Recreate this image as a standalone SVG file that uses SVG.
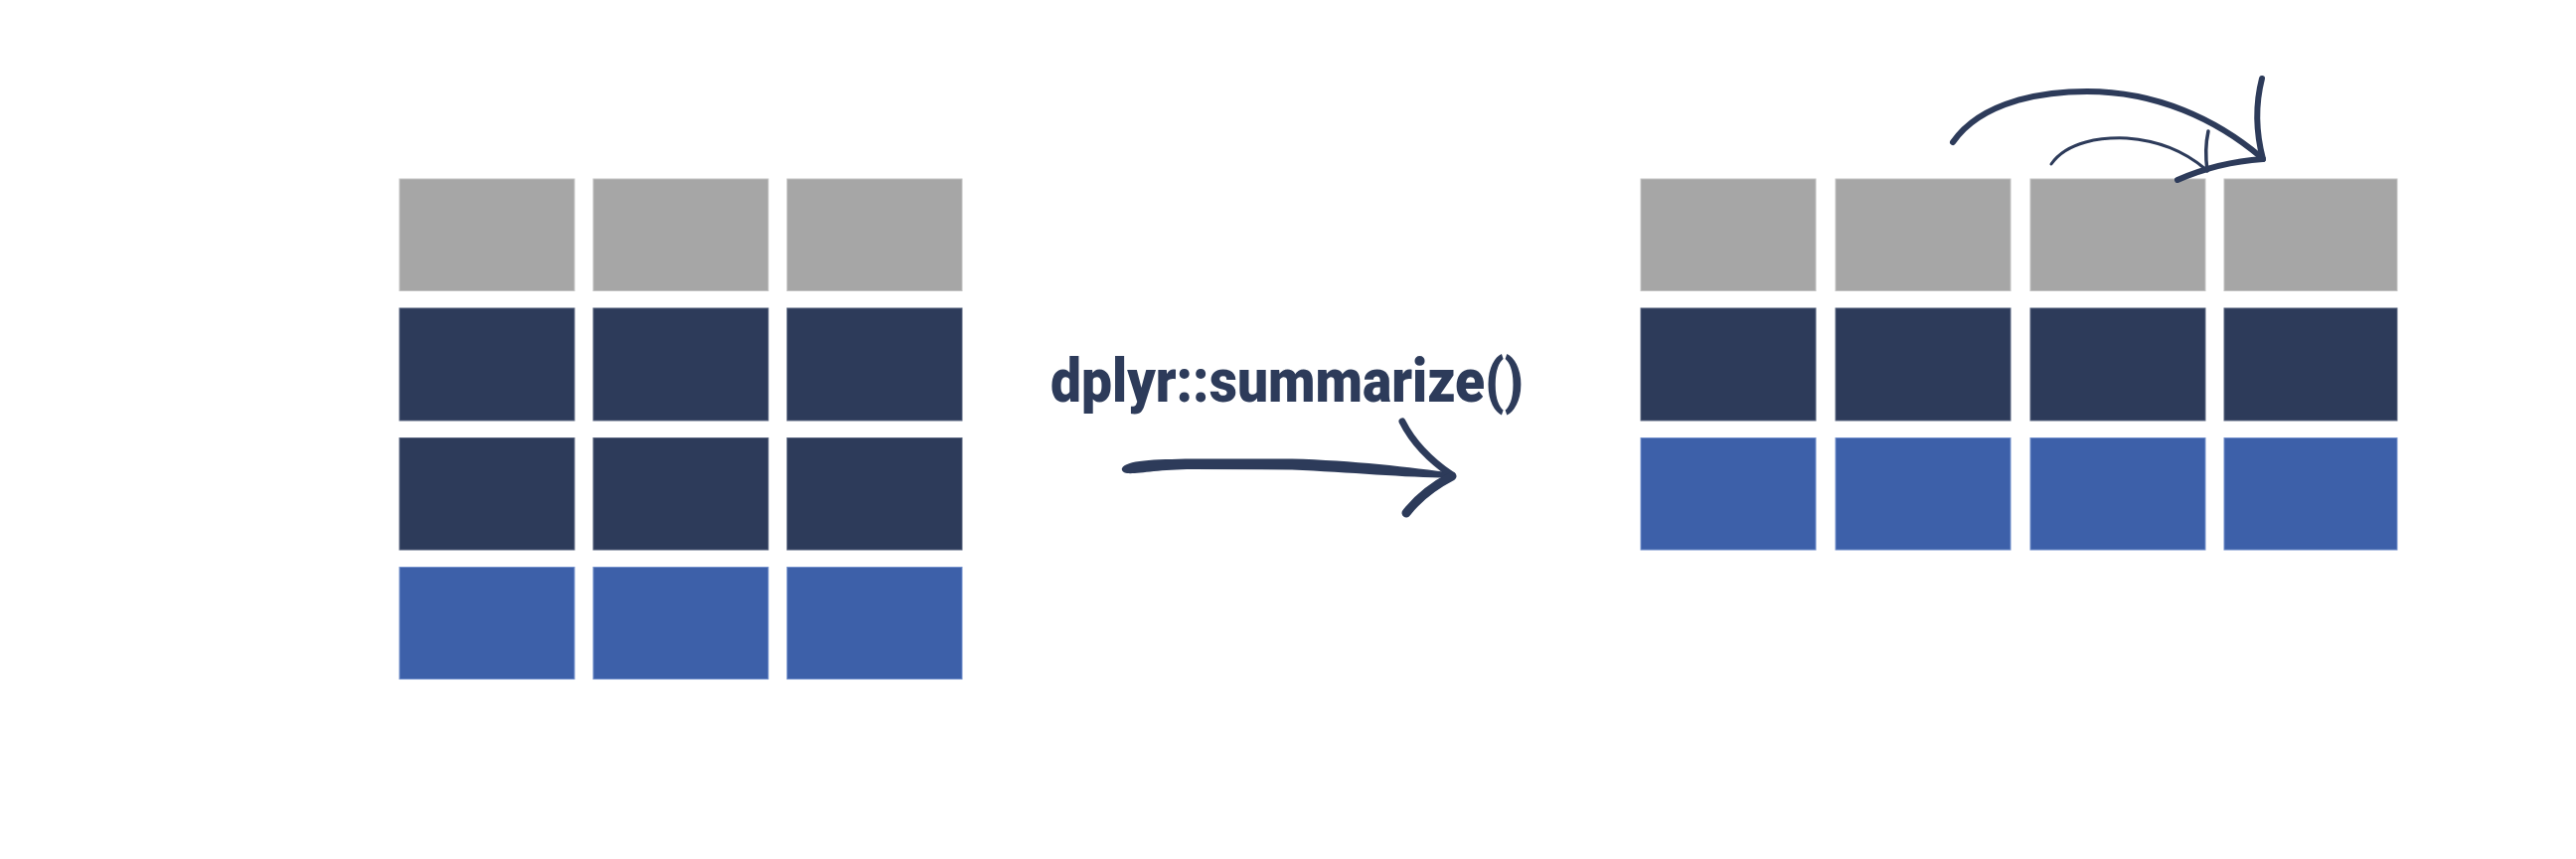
<svg xmlns="http://www.w3.org/2000/svg" width="2592" height="864" viewBox="0 0 2592 864">
<style>
.g{fill:#A6A6A6;stroke:#C2C2C2;stroke-width:1}
.n{fill:#2D3B5A;stroke:#5A6680;stroke-width:1}
.b{fill:#3D60A9;stroke:#7390CC;stroke-width:1}
.ink{fill:none;stroke:#2D3B5A;stroke-linecap:round;stroke-linejoin:round}
.lbl{font-family:Roboto,"Liberation Sans",sans-serif;font-weight:900;font-size:62px;fill:#2D3B5A}
</style>
<rect width="2592" height="864" fill="#FFFFFF"/>
<g id="input-table">
<rect class="g" x="402" y="180" width="176" height="112.5"/>
<rect class="g" x="597" y="180" width="176" height="112.5"/>
<rect class="g" x="792" y="180" width="176" height="112.5"/>
<rect class="n" x="402" y="310" width="176" height="113"/>
<rect class="n" x="597" y="310" width="176" height="113"/>
<rect class="n" x="792" y="310" width="176" height="113"/>
<rect class="n" x="402" y="440.5" width="176" height="112.5"/>
<rect class="n" x="597" y="440.5" width="176" height="112.5"/>
<rect class="n" x="792" y="440.5" width="176" height="112.5"/>
<rect class="b" x="402" y="570.5" width="176" height="112.5"/>
<rect class="b" x="597" y="570.5" width="176" height="112.5"/>
<rect class="b" x="792" y="570.5" width="176" height="112.5"/>
</g>
<g id="output-table">
<rect class="g" x="1651" y="180" width="176" height="112.5"/>
<rect class="g" x="1847" y="180" width="176" height="112.5"/>
<rect class="g" x="2043" y="180" width="176" height="112.5"/>
<rect class="g" x="2238" y="180" width="174" height="112.5"/>
<rect class="n" x="1651" y="310" width="176" height="113"/>
<rect class="n" x="1847" y="310" width="176" height="113"/>
<rect class="n" x="2043" y="310" width="176" height="113"/>
<rect class="n" x="2238" y="310" width="174" height="113"/>
<rect class="b" x="1651" y="440.5" width="176" height="112.5"/>
<rect class="b" x="1847" y="440.5" width="176" height="112.5"/>
<rect class="b" x="2043" y="440.5" width="176" height="112.5"/>
<rect class="b" x="2238" y="440.5" width="174" height="112.5"/>
</g>
<g id="label">
<text class="lbl" x="1057" y="404" textLength="476" lengthAdjust="spacingAndGlyphs">dplyr::summarize()</text>
</g>
<g id="connectors">
<g id="main-arrow">
<path fill="#2D3B5A" d="M1129,471 C1133,463 1160,462 1200,461.5 L1300,461.5 C1360,463 1420,470 1463,476 L1463,480.5 C1420,481 1360,475 1300,472.5 L1200,472 C1165,472 1145,477 1134,476 C1130,475.5 1128,473 1129,471 Z"/>
<path class="ink" stroke-width="7" d="M1411,424 Q1426,454 1461,478"/>
<path class="ink" stroke-width="9" d="M1461,479 Q1432,494 1415,516"/>
</g>
<g id="top-arrows">
<path class="ink" stroke-width="6" d="M1965,143 C1995,100 2060,92 2100,92 C2170,92 2230,120 2275,158"/>
<path class="ink" stroke-width="6" d="M2276,79 Q2266,118 2277,160"/>
<path class="ink" stroke-width="6" d="M2277,160 Q2232,163 2191,181"/>
<path class="ink" stroke-width="3" d="M2064,165 C2080,142 2115,138 2140,139 C2180,142 2205,158 2219,170"/>
<path class="ink" stroke-width="3.5" d="M2222,132 Q2218,150 2221,172"/>
</g>
</g>
</svg>
